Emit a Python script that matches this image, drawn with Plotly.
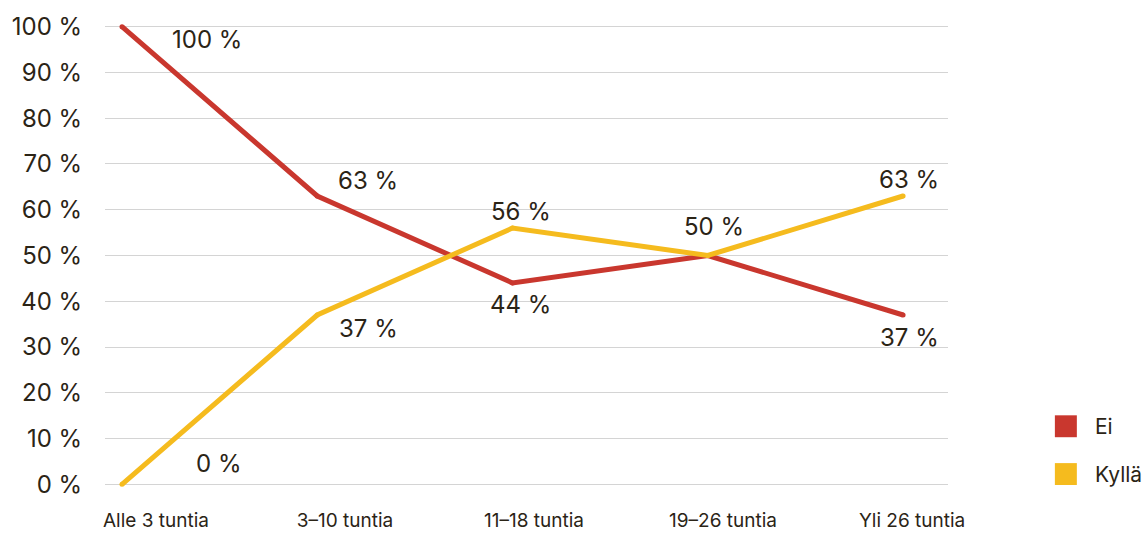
import plotly.graph_objects as go

# Weekly hours categories and share of answers per group
categories = ["Alle 3 tuntia", "3–10 tuntia", "11–18 tuntia", "19–26 tuntia", "Yli 26 tuntia"]
series_names = ["Ei", "Kyllä"]
ei_values = [100, 63, 44, 50, 37]
kylla_values = [0, 37, 56, 50, 63]
y_ticks = [0, 10, 20, 30, 40, 50, 60, 70, 80, 90, 100]
y_tick_labels = [f"{v} %" for v in y_ticks]

colors = {"Ei": "#C9372E", "Kyllä": "#F5BB1E"}
text_color = "#2B2416"
font_family = "Inter, 'Noto Sans', sans-serif"

# Pixel offsets of each value label relative to its point (None = label not drawn)
label_offsets = {
    "Ei": [(85, -13), (51, 16), (8, -22), None, (6, -22)],
    "Kyllä": [(97, 21), (51, -13), (8, 17), (6, 29), (6, 17)],
}

values = {"Ei": ei_values, "Kyllä": kylla_values}
positions = list(range(len(categories)))

fig = go.Figure()
for name in series_names:
    # small round markers give the line rounded ends and joins
    fig.add_trace(go.Scatter(
        x=positions,
        y=values[name],
        mode="lines+markers",
        name=name,
        line=dict(color=colors[name], width=5),
        marker=dict(color=colors[name], size=5, line=dict(width=0)),
        showlegend=False,
        hoverinfo="skip",
    ))

# Category labels sit on their own, slightly narrower axis
fig.add_trace(go.Scatter(
    x=positions, y=[None] * len(positions), xaxis="x2", mode="lines",
    showlegend=False, hoverinfo="skip",
))

annotations = []
for name in series_names:
    for i, v in enumerate(values[name]):
        off = label_offsets[name][i]
        if off is None:
            continue
        annotations.append(dict(
            x=i, y=v, xref="x", yref="y",
            text=f"{v} %", showarrow=False,
            xshift=off[0], yshift=off[1],
            font=dict(family=font_family, size=24, color=text_color),
        ))

# Legend drawn as colour squares with labels to the right of the plot
shapes = []
legend_rows = [("Ei", 426), ("Kyllä", 474)]  # pixel centre rows
W, H = 1145, 548
ml, mr, mt, mb = 104, 197, 21, 60
pw, ph = W - ml - mr, H - mt - mb
for name, yc in legend_rows:
    x0 = (1055 - ml) / pw
    x1 = (1077 - ml) / pw
    y0 = 1 - (yc + 11 - mt) / ph
    y1 = 1 - (yc - 11 - mt) / ph
    shapes.append(dict(type="rect", xref="paper", yref="paper",
                       x0=x0, x1=x1, y0=y0, y1=y1,
                       fillcolor=colors[name], line=dict(width=0)))
    annotations.append(dict(
        x=(1093 - ml) / pw, y=1 - (yc - mt) / ph, xref="paper", yref="paper",
        text=name, showarrow=False, xanchor="left", yanchor="middle",
        font=dict(family=font_family, size=21, color=text_color),
    ))

fig.update_layout(
    width=W, height=H,
    margin=dict(l=ml, r=mr, t=mt, b=mb),
    paper_bgcolor="white", plot_bgcolor="white",
    showlegend=False,
    annotations=annotations,
    shapes=shapes,
    xaxis=dict(
        range=[-0.087, 4.23],
        showgrid=False, zeroline=False, showline=False,
        showticklabels=False, ticks="",
    ),
    xaxis2=dict(
        overlaying="x", side="bottom", anchor="y",
        tickmode="array",
        tickvals=positions,
        ticktext=categories,
        range=[-0.2695, 4.19],
        showgrid=False, zeroline=False, showline=False,
        ticks="outside", ticklen=15, tickcolor="rgba(0,0,0,0)",
        tickfont=dict(family=font_family, size=19, color=text_color),
    ),
    yaxis=dict(
        tickmode="array",
        tickvals=y_ticks,
        ticktext=y_tick_labels,
        range=[-0.8, 100.8],
        showgrid=True, gridcolor="#D4D4D4", gridwidth=1,
        zeroline=False, showline=False,
        ticks="outside", ticklen=17, tickcolor="rgba(0,0,0,0)",
        tickfont=dict(family=font_family, size=24, color=text_color),
    ),
)

fig.write_html("out.html")
